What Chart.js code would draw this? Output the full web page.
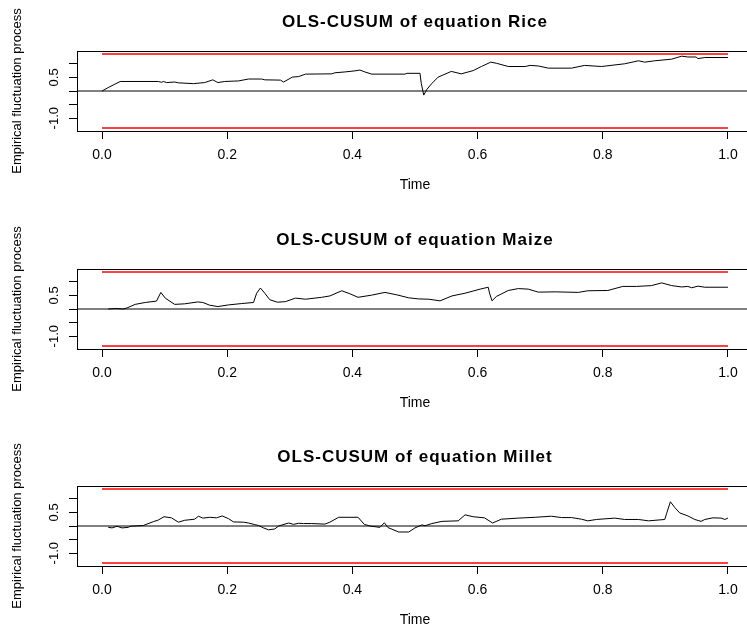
<!DOCTYPE html>
<html>
<head>
<meta charset="utf-8">
<script src="https://cdn.jsdelivr.net/npm/chart.js@4.4.1/dist/chart.umd.min.js"></script>
<style>
    body { margin: 0; background: #fff; }
    #wrap { position: relative; width: 747px; height: 630px; overflow: hidden; background: #fff; }
    canvas { position: absolute; left: 0; }
</style>
</head>
<body>
<div id="wrap">
    <canvas id="riceChart" width="800" height="210" style="top:0px"></canvas>
    <canvas id="maizeChart" width="800" height="210" style="top:218px"></canvas>
    <canvas id="milletChart" width="800" height="210" style="top:435px"></canvas>
</div>
<script>
const riceTime = [0, 0.011, 0.029, 0.09, 0.095, 0.098, 0.103, 0.116, 0.122, 0.146, 0.164, 0.177, 0.185, 0.196, 0.218, 0.234, 0.255, 0.260, 0.285, 0.290, 0.304, 0.314, 0.325, 0.367, 0.372, 0.388, 0.404, 0.412, 0.420, 0.431, 0.484, 0.487, 0.508, 0.510, 0.514, 0.519, 0.527, 0.537, 0.558, 0.574, 0.593, 0.606, 0.621, 0.630, 0.649, 0.676, 0.684, 0.697, 0.713, 0.750, 0.771, 0.798, 0.835, 0.857, 0.867, 0.883, 0.910, 0.926, 0.936, 0.949, 0.952, 0.963, 1.0];
const riceValue = [0, 0.14, 0.35, 0.35, 0.32, 0.35, 0.31, 0.33, 0.30, 0.27, 0.31, 0.41, 0.31, 0.35, 0.37, 0.44, 0.44, 0.41, 0.40, 0.33, 0.51, 0.53, 0.62, 0.63, 0.67, 0.70, 0.74, 0.77, 0.70, 0.62, 0.62, 0.65, 0.65, 0.28, -0.15, 0.06, 0.28, 0.51, 0.72, 0.63, 0.75, 0.90, 1.06, 1.02, 0.90, 0.90, 0.94, 0.92, 0.84, 0.84, 0.94, 0.90, 1.00, 1.11, 1.06, 1.11, 1.17, 1.28, 1.25, 1.25, 1.19, 1.23, 1.23];

const maizeTime = [0.010, 0.021, 0.034, 0.040, 0.053, 0.069, 0.087, 0.094, 0.101, 0.116, 0.132, 0.153, 0.161, 0.172, 0.185, 0.202, 0.223, 0.242, 0.247, 0.253, 0.260, 0.268, 0.280, 0.293, 0.309, 0.325, 0.351, 0.364, 0.383, 0.396, 0.409, 0.431, 0.452, 0.471, 0.490, 0.506, 0.522, 0.540, 0.559, 0.580, 0.604, 0.617, 0.619, 0.623, 0.630, 0.649, 0.665, 0.681, 0.697, 0.724, 0.761, 0.776, 0.808, 0.832, 0.854, 0.878, 0.894, 0.910, 0.926, 0.936, 0.942, 0.952, 0.963, 1.0];
const maizeValue = [0, 0.02, 0, 0.04, 0.17, 0.24, 0.29, 0.61, 0.40, 0.17, 0.19, 0.26, 0.24, 0.14, 0.09, 0.15, 0.20, 0.24, 0.58, 0.77, 0.58, 0.34, 0.25, 0.27, 0.40, 0.36, 0.43, 0.48, 0.67, 0.56, 0.43, 0.51, 0.61, 0.52, 0.41, 0.37, 0.36, 0.30, 0.48, 0.58, 0.73, 0.80, 0.59, 0.30, 0.46, 0.68, 0.75, 0.73, 0.62, 0.63, 0.61, 0.67, 0.68, 0.83, 0.83, 0.86, 0.96, 0.86, 0.81, 0.83, 0.78, 0.84, 0.80, 0.80];

const milletTime = [0.010, 0.016, 0.024, 0.032, 0.042, 0.045, 0.066, 0.082, 0.090, 0.099, 0.111, 0.122, 0.132, 0.148, 0.154, 0.161, 0.172, 0.183, 0.192, 0.202, 0.210, 0.226, 0.234, 0.244, 0.250, 0.258, 0.266, 0.276, 0.282, 0.298, 0.306, 0.314, 0.322, 0.335, 0.356, 0.364, 0.378, 0.409, 0.419, 0.428, 0.444, 0.451, 0.457, 0.474, 0.490, 0.500, 0.511, 0.516, 0.527, 0.543, 0.569, 0.580, 0.593, 0.611, 0.624, 0.638, 0.665, 0.692, 0.718, 0.734, 0.750, 0.766, 0.776, 0.790, 0.819, 0.835, 0.857, 0.873, 0.899, 0.902, 0.908, 0.915, 0.923, 0.936, 0.947, 0.957, 0.963, 0.976, 0.989, 0.995, 1.0];
const milletValue = [-0.05, -0.07, -0.01, -0.07, -0.05, -0.01, 0.02, 0.16, 0.22, 0.34, 0.30, 0.14, 0.21, 0.25, 0.36, 0.29, 0.32, 0.30, 0.37, 0.27, 0.15, 0.14, 0.11, 0.05, 0.02, -0.07, -0.14, -0.11, 0, 0.11, 0.06, 0.10, 0.09, 0.09, 0.07, 0.14, 0.32, 0.32, 0.06, 0, -0.05, 0.12, -0.06, -0.22, -0.22, -0.07, 0.04, 0.01, 0.09, 0.17, 0.19, 0.41, 0.34, 0.30, 0.11, 0.25, 0.29, 0.32, 0.36, 0.31, 0.31, 0.25, 0.19, 0.24, 0.29, 0.24, 0.24, 0.19, 0.24, 0.46, 0.89, 0.68, 0.48, 0.37, 0.24, 0.17, 0.24, 0.30, 0.29, 0.24, 0.29];

const xTicks = [0, 0.2, 0.4, 0.6, 0.8, 1.0];
const yTicks = [-1.0, -0.5, 0, 0.5, 1.0];
const yTickLabels = [0.5, -1.0];
const boundary = 1.358;
const timeRange = [0, 1];

// R style box, titles and rotated y labels
const rStyle = {
    id: 'rStyle',
    afterDraw(chart, args, opts) {
        const ctx = chart.ctx;
        const area = chart.chartArea;
        const yScale = chart.scales.y;
        ctx.save();
        ctx.strokeStyle = '#000';
        ctx.lineWidth = 1;
        ctx.strokeRect(area.left + 0.5, area.top + 0.5, area.right - area.left, area.bottom - area.top);

        ctx.fillStyle = '#000';
        ctx.textAlign = 'center';
        ctx.textBaseline = 'middle';
        const cx = (area.left + area.right) / 2;

        ctx.font = 'bold 17px "Liberation Sans", Arial, sans-serif';
        ctx.letterSpacing = '1px';
        ctx.fillText(opts.title, cx, 22);
        ctx.letterSpacing = '0px';

        ctx.font = '14px "Liberation Sans", Arial, sans-serif';
        ctx.fillText('Time', cx, 185);

        ctx.font = '13px "Liberation Sans", Arial, sans-serif';
        yTickLabels.forEach(v => {
            ctx.save();
            ctx.translate(54, yScale.getPixelForValue(v));
            ctx.rotate(-Math.PI / 2);
            ctx.fillText(v.toFixed(1), 0, 0);
            ctx.restore();
        });

        ctx.save();
        ctx.translate(17, (area.top + area.bottom) / 2);
        ctx.rotate(-Math.PI / 2);
        ctx.fillText('Empirical fluctuation process', 0, 0);
        ctx.restore();
        ctx.restore();
    }
};

function makePanel(canvasId, name, times, values) {
    const ctx = document.getElementById(canvasId).getContext('2d');
    return new Chart(ctx, {
        type: 'line',
        data: {
            datasets: [{
                data: times.map((t, i) => ({ x: t, y: values[i] })),
                borderColor: '#000',
                borderWidth: 1,
                pointRadius: 0,
                tension: 0,
                order: 0
            }, {
                data: timeRange.map(t => ({ x: t, y: boundary })),
                borderColor: '#ff0000',
                borderWidth: 1.5,
                pointRadius: 0,
                order: 1
            }, {
                data: timeRange.map(t => ({ x: t, y: -boundary })),
                borderColor: '#ff0000',
                borderWidth: 1.5,
                pointRadius: 0,
                order: 1
            }, {
                data: [{ x: -0.04, y: 0 }, { x: 1.04, y: 0 }],
                borderColor: '#000',
                borderWidth: 1,
                pointRadius: 0,
                order: 2
            }]
        },
        options: {
            responsive: false,
            animation: false,
            events: [],
            layout: { padding: { top: 51, left: 57, right: 47, bottom: 0 } },
            plugins: {
                legend: { display: false },
                tooltip: { enabled: false },
                rStyle: { title: 'OLS-CUSUM of equation ' + name }
            },
            scales: {
                x: {
                    type: 'linear',
                    min: -0.04,
                    max: 1.04,
                    afterBuildTicks: s => { s.ticks = xTicks.map(v => ({ value: v })); },
                    afterFit: s => { s.height = 79; },
                    ticks: {
                        color: '#000',
                        padding: 8,
                        maxRotation: 0,
                        font: { family: '"Liberation Sans", Arial, sans-serif', size: 14 },
                        callback: v => v.toFixed(1)
                    },
                    grid: { drawOnChartArea: false, tickLength: 8, color: '#000' },
                    border: { display: false }
                },
                y: {
                    type: 'linear',
                    min: -1.47,
                    max: 1.47,
                    afterBuildTicks: s => { s.ticks = yTicks.map(v => ({ value: v })); },
                    afterFit: s => { s.width = 20; },
                    ticks: { display: false },
                    grid: { drawOnChartArea: false, tickLength: 8, color: '#000' },
                    border: { display: false }
                }
            }
        },
        plugins: [rStyle]
    });
}

makePanel('riceChart', 'Rice', riceTime, riceValue);
makePanel('maizeChart', 'Maize', maizeTime, maizeValue);
makePanel('milletChart', 'Millet', milletTime, milletValue);
</script>
</body>
</html>
